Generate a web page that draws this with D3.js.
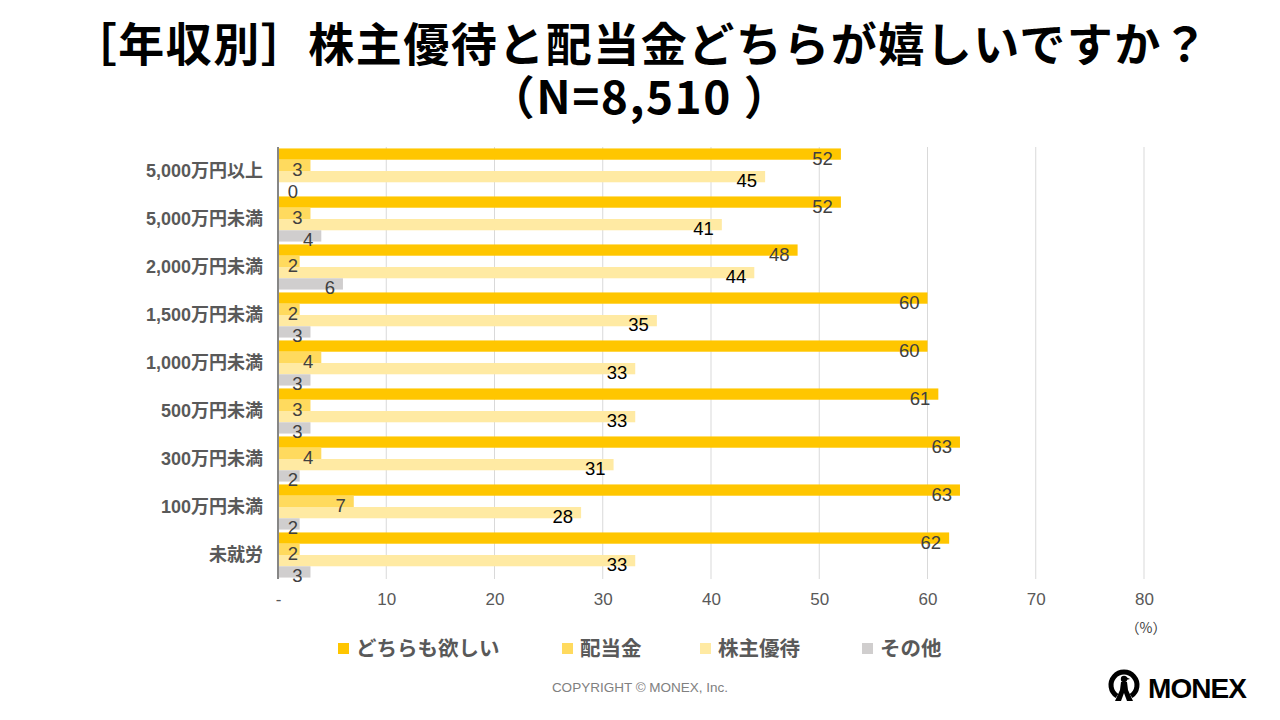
<!DOCTYPE html>
<html><head><meta charset="utf-8">
<script src="https://cdn.jsdelivr.net/npm/d3@7/dist/d3.min.js"></script>
<style>
html,body{margin:0;padding:0;background:#fff;}
svg{display:block;}
</style></head>
<body>
<svg id="c" width="1280" height="720"></svg>
<script>
const categories = ["5,000万円以上","5,000万円未満","2,000万円未満","1,500万円未満","1,000万円未満","500万円未満","300万円未満","100万円未満","未就労"];
const seriesNames = ["どちらも欲しい","配当金","株主優待","その他"];
const bothValues = [52,52,48,60,60,61,63,63,62];
const dividendValues = [3,3,2,2,4,3,4,7,2];
const benefitValues = [45,41,44,35,33,33,31,28,33];
const otherValues = [0,4,6,3,3,3,2,2,3];
const xTicks = [0,10,20,30,40,50,60,70,80];
const xTickLabels = ["-","10","20","30","40","50","60","70","80"];
const titleLines = ["［年収別］株主優待と配当金どちらが嬉しいですか？","（N=8,510 ）"];
const colors = ["#FFC600","#FFDA5E","#FFEAA3","#D0CECE"];
const labelColors = ["#404040","#404040","#000000","#404040"];

const series = [bothValues, dividendValues, benefitValues, otherValues];
const svg = d3.select("#c");
const JP = "'Noto Sans CJK JP','Noto Sans',sans-serif";
const LAT = "'Liberation Sans','Noto Sans CJK JP',sans-serif";

// Title (single text block, two lines)
const title = svg.append("text").attr("text-anchor","middle")
  .attr("font-family",JP).attr("font-weight",700).attr("font-size",46).attr("letter-spacing",1.5).attr("fill","#000");
title.append("tspan").attr("x",640).attr("y",61).text(titleLines[0]);
title.append("tspan").attr("x",640).attr("y",114).text(titleLines[1]);

const x = d3.scaleLinear().domain([0,80]).range([278,1144]);
const y = d3.scaleBand().domain(categories).range([147,579]).paddingInner(0.06).paddingOuter(0.03);
const sub = d3.scaleBand().domain(d3.range(4)).range([0,y.bandwidth()]);

// gridlines
svg.append("g").selectAll("line").data(xTicks.filter(t=>t>0)).join("line")
  .attr("x1",d=>x(d)).attr("x2",d=>x(d)).attr("y1",147).attr("y2",579)
  .attr("stroke","#D9D9D9").attr("stroke-width",1);

// bars
const g = svg.append("g");
categories.forEach((c,ci)=>{
  series.forEach((vals,si)=>{
    const v = vals[ci];
    const y0 = y(c)+sub(si);
    g.append("rect").attr("x",x(0)).attr("y",y0).attr("width",x(v)-x(0)).attr("height",sub.bandwidth())
      .attr("fill",colors[si]);
  });
});
// labels
categories.forEach((c,ci)=>{
  series.forEach((vals,si)=>{
    const v = vals[ci];
    const y0 = y(c)+sub(si);
    const lx = Math.max(x(v)-8, x(0)+20);
    g.append("text").attr("x",lx).attr("y",y0+sub.bandwidth()/2+4).attr("dy","0.35em")
      .attr("text-anchor","end").attr("font-family",LAT).attr("font-size",18.5)
      .attr("fill",labelColors[si]).text(v);
  });
});

// y axis line
svg.append("line").attr("x1",x(0)).attr("x2",x(0)).attr("y1",147).attr("y2",579)
  .attr("stroke","#868686").attr("stroke-width",2);

// y labels
const yAxis = d3.axisLeft(y).tickSize(0).tickPadding(15);
const ya = svg.append("g").attr("transform",`translate(${x(0)},0)`).call(yAxis);
ya.select(".domain").remove();
ya.selectAll("text").attr("font-family",LAT).attr("font-weight",700).attr("font-size",18).attr("fill","#595959");

// x axis labels
const xAxis = d3.axisBottom(x).tickValues(xTicks).tickFormat((d,i)=>xTickLabels[i]).tickSize(0).tickPadding(14);
const xa = svg.append("g").attr("transform","translate(0,579)").call(xAxis);
xa.select(".domain").remove();
xa.selectAll("text").attr("font-family",LAT).attr("font-size",17).attr("fill","#595959");

svg.append("text").attr("x",1146).attr("y",633).attr("text-anchor","middle")
  .attr("font-family",JP).attr("font-size",14).attr("fill","#404040").text("（%）");

// legend
const legendX = [338,562,700,862];
seriesNames.forEach((n,i)=>{
  svg.append("rect").attr("x",legendX[i]).attr("y",643).attr("width",11).attr("height",11).attr("fill",colors[i]);
  svg.append("text").attr("x",legendX[i]+18).attr("y",649).attr("dy","0.35em")
    .attr("font-family",JP).attr("font-weight",700).attr("font-size",20.5).attr("fill","#595959").text(n);
});

// copyright
svg.append("text").attr("x",640).attr("y",692).attr("text-anchor","middle")
  .attr("font-family",LAT).attr("font-size",13.5).attr("fill","#808080").text("COPYRIGHT © MONEX, Inc.");

// logo
const logo = svg.append("g").attr("transform","translate(1124,684)");
logo.append("path").attr("d","M-7,12 A13,13 0 1 1 7,12").attr("fill","none").attr("stroke","#000").attr("stroke-width",5);
logo.append("circle").attr("cx",0).attr("cy",-5).attr("r",3.2).attr("fill","#000");
logo.append("path").attr("d","M-3,-2 L3,-2 L4,6 L9,17 L3,17 L0,9 L-3,17 L-9,17 L-4,6 Z").attr("fill","#000");
logo.append("path").attr("d","M2,-7 L6,-5 L2,-4 Z").attr("fill","#000");
svg.append("text").attr("x",1148).attr("y",698).attr("font-family","'Liberation Sans',sans-serif")
  .attr("font-weight",700).attr("font-size",28).attr("fill","#000").attr("textLength",99).text("MONEX");
</script>
</body></html>
